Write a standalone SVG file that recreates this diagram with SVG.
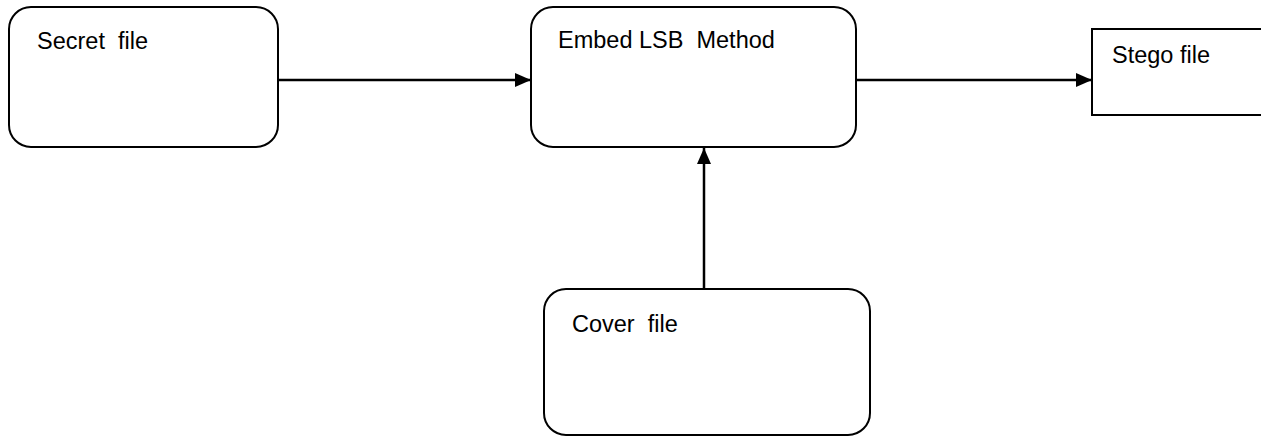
<svg xmlns="http://www.w3.org/2000/svg" width="1261" height="436" viewBox="0 0 1261 436">
<style>
.box{fill:#fff;stroke:#000;stroke-width:2}
.lbl{font-family:"Liberation Sans",Arial,sans-serif;font-size:23.5px;fill:#000}
.con{stroke:#000;stroke-width:2.5;fill:none}
</style>
<defs>
<marker id="ah" markerWidth="16" markerHeight="14" refX="16" refY="7" orient="auto" markerUnits="userSpaceOnUse">
<path d="M0,0 L16,7 L0,14 Z" fill="#000"/>
</marker>
</defs>
<rect width="1261" height="436" fill="#fff"/>
<g id="secret">
<rect class="box" x="9" y="7" width="269" height="140" rx="22" ry="22"/>
<text class="lbl" x="37" y="49" xml:space="preserve">Secret  file</text>
</g>
<g id="embed">
<rect class="box" x="531" y="7" width="325" height="140" rx="22" ry="22"/>
<text class="lbl" x="558" y="48" xml:space="preserve">Embed LSB  Method</text>
</g>
<g id="stego">
<rect class="box" x="1092" y="29" width="200" height="86"/>
<text class="lbl" x="1112" y="63">Stego file</text>
</g>
<g id="cover">
<rect class="box" x="544" y="289" width="326" height="146" rx="22" ry="22"/>
<text class="lbl" x="572" y="332" xml:space="preserve">Cover  file</text>
</g>
<g id="connectors">
<line class="con" x1="278" y1="80" x2="531" y2="80" marker-end="url(#ah)"/>
<line class="con" x1="856" y1="80" x2="1092" y2="80" marker-end="url(#ah)"/>
<line class="con" x1="704" y1="289" x2="704" y2="148" marker-end="url(#ah)"/>
</g>
</svg>
